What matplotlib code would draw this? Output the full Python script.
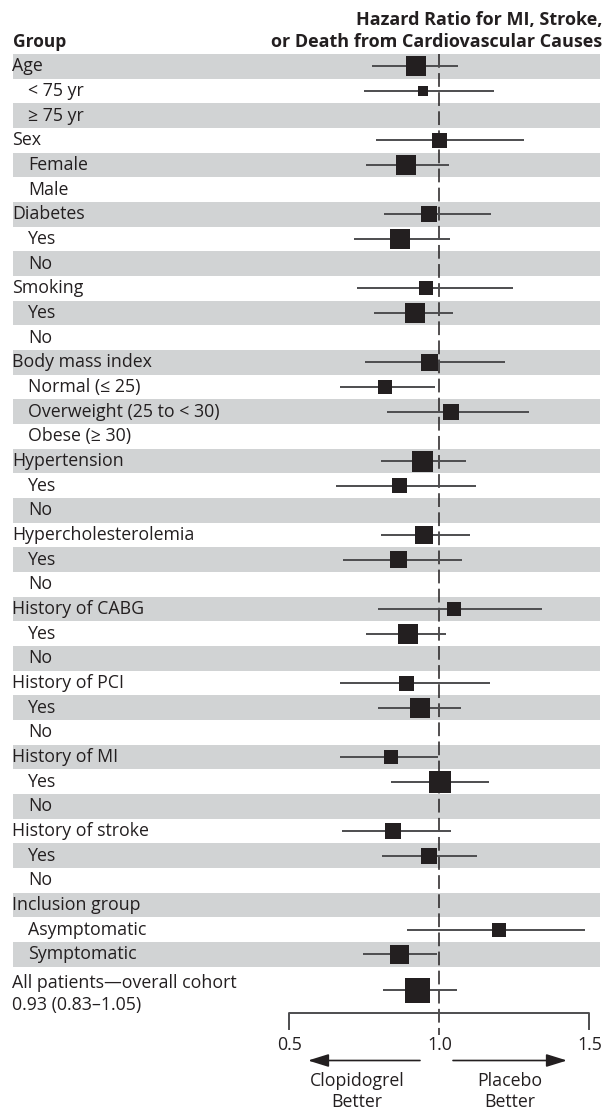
import numpy as np
import matplotlib.pyplot as plt

plt.rcParams['font.family'] = ['Open Sans', 'DejaVu Sans']

# rows of the forest plot (top to bottom); nan = no estimate drawn
labels = ["Age", "< 75 yr", "\u2265 75 yr",
          "Sex", "Female", "Male",
          "Diabetes", "Yes", "No",
          "Smoking", "Yes", "No",
          "Body mass index", "Normal (\u2264 25)", "Overweight (25 to < 30)", "Obese (\u2265 30)",
          "Hypertension", "Yes", "No",
          "Hypercholesterolemia", "Yes", "No",
          "History of CABG", "Yes", "No",
          "History of PCI", "Yes", "No",
          "History of MI", "Yes", "No",
          "History of stroke", "Yes", "No",
          "Inclusion group", "Asymptomatic", "Symptomatic"]
indent = [0, 1, 1, 0, 1, 1, 0, 1, 1, 0, 1, 1, 0, 1, 1, 1, 0, 1, 1,
          0, 1, 1, 0, 1, 1, 0, 1, 1, 0, 1, 1, 0, 1, 1, 0, 1, 1]
nan = np.nan
hr = [0.922, 0.946, nan, 1.001, 0.889, nan, 0.966, 0.869, nan, 0.956, 0.919, nan,
      0.968, 0.819, 1.039, nan, 0.944, 0.867, nan, 0.949, 0.864, nan,
      1.049, 0.896, nan, 0.891, 0.936, nan, 0.839, 1.002, nan, 0.846, 0.966, nan,
      nan, 1.199, 0.867]
ci_lo = [0.776, 0.749, nan, 0.790, 0.756, nan, 0.817, 0.717, nan, 0.727, 0.782, nan,
         0.752, 0.669, 0.825, nan, 0.807, 0.655, nan, 0.807, 0.679, nan,
         0.797, 0.756, nan, 0.669, 0.797, nan, 0.669, 0.840, nan, 0.676, 0.808, nan,
         nan, 0.893, 0.745]
ci_hi = [1.063, 1.182, nan, 1.282, 1.031, nan, 1.171, 1.035, nan, 1.245, 1.045, nan,
         1.218, 0.987, 1.298, nan, 1.088, 1.122, nan, 1.102, 1.075, nan,
         1.342, 1.022, nan, 1.168, 1.071, nan, 0.995, 1.165, nan, 1.038, 1.125, nan,
         nan, 1.486, 0.993]
weight = [20, 10, 0, 15, 20, 0, 16, 20, 0, 14, 20, 0, 17, 14, 16, 0, 21, 15, 0,
          18, 17, 0, 14, 20, 0, 15, 20, 0, 14, 22, 0, 16, 16, 0, 0, 14, 19]

overall_label = "All patients\u2014overall cohort"
overall_text = "0.93 (0.83\u20131.05)"
overall_hr, overall_lo, overall_hi, overall_w = 0.924, 0.811, 1.058, 25

ticks = [0.5, 1.0, 1.5]

TXT = '#231f20'
BAND = '#d1d3d4'
LINE = '#4d4d4f'
FS = 12.8

# pixel layout helpers (figure is 612 x 1111 px)
W, H = 612, 1111
PX_ONE, PX_UNIT = 439.3, 300.0
ROW_TOP, ROW_H = 54.0, 24.67


def py(px):
    return (px - ROW_TOP) / ROW_H - 0.5


def vx(px):
    return 1 + (px - PX_ONE) / PX_UNIT


fig = plt.figure(figsize=(W / 100, H / 100), dpi=100)
ax = fig.add_axes([0, 0, 1, 1])
ax.set_xlim(vx(0), vx(W))
ax.set_ylim(py(H), py(0))
ax.axis('off')

n = len(labels)
ytr = ax.get_yaxis_transform()

# alternating bands + row labels
for i, lab in enumerate(labels):
    if i % 2 == 0:
        ax.axhspan(i - 0.5, i + 0.5, xmin=12.9 / W, xmax=600.3 / W, color=BAND, lw=0, zorder=0)
    x0 = 28.0 if indent[i] else 12.5
    ax.text(x0 / W, i, lab, transform=ytr, ha='left', va='center', fontsize=FS, color=TXT)

y_all = n + 0.45
ax.text(12.5 / W, py(983), overall_label, transform=ytr, ha='left', va='center', fontsize=FS, color=TXT)
ax.text(12.5 / W, py(1005), overall_text, transform=ytr, ha='left', va='center', fontsize=FS, color=TXT)

# reference line at HR = 1
ax.vlines(1.0, -0.5, py(1035), colors=TXT, lw=1.1, linestyles=(0, (9, 3.5)), zorder=1)

# estimates
ys = np.arange(n, dtype=float)
hr_a = np.array(hr)
lo_a = np.array(ci_lo)
hi_a = np.array(ci_hi)
w_a = np.array(weight, dtype=float)
ok = ~np.isnan(hr_a)
ax.hlines(ys[ok], lo_a[ok], hi_a[ok], colors=LINE, lw=1.4, zorder=2)
ax.scatter(hr_a[ok], ys[ok], s=(w_a[ok] * 0.72) ** 2, marker='s', color=TXT, linewidths=0, zorder=3)

ax.hlines(y_all, overall_lo, overall_hi, colors=LINE, lw=1.4, zorder=2)
ax.scatter([overall_hr], [y_all], s=(overall_w * 0.72) ** 2, marker='s', color=TXT, linewidths=0, zorder=3)

# x axis bracket
y_ax, y_tk = py(1013.3), py(1029)
ax.plot([ticks[0], ticks[0], ticks[-1], ticks[-1]], [y_tk, y_ax, y_ax, y_tk], color=LINE, lw=1.4, zorder=2)
for t in ticks:
    ax.text(t, py(1045.5), f"{t:.1f}", ha='center', va='center', fontsize=12.8, color=TXT)

# direction arrows
ya = py(1060.5)
arrow = dict(arrowstyle='-|>,head_length=0.9,head_width=0.28', lw=1.2, color=TXT,
             mutation_scale=14, shrinkA=0, shrinkB=0)
ax.annotate('', xy=(vx(308), ya), xytext=(vx(420), ya), arrowprops=arrow)
ax.annotate('', xy=(vx(567), ya), xytext=(vx(453), ya), arrowprops=arrow)
ax.text(vx(357), py(1081), "Clopidogrel", ha='center', va='center', fontsize=FS, color=TXT)
ax.text(vx(357), py(1102), "Better", ha='center', va='center', fontsize=FS, color=TXT)
ax.text(vx(510), py(1081), "Placebo", ha='center', va='center', fontsize=FS, color=TXT)
ax.text(vx(510), py(1102), "Better", ha='center', va='center', fontsize=FS, color=TXT)

# header
fig.text(12.5 / W, 1 - 42 / H, "Group", ha='left', va='center', fontsize=12.5, fontweight='bold', color=TXT)
fig.text(602 / W, 1 - 20 / H, "Hazard Ratio for MI, Stroke,", ha='right', va='center',
         fontsize=13, fontweight='bold', color=TXT)
fig.text(602 / W, 1 - 42 / H, "or Death from Cardiovascular Causes", ha='right', va='center',
         fontsize=13, fontweight='bold', color=TXT)

fig.savefig("out.png", dpi=100)
